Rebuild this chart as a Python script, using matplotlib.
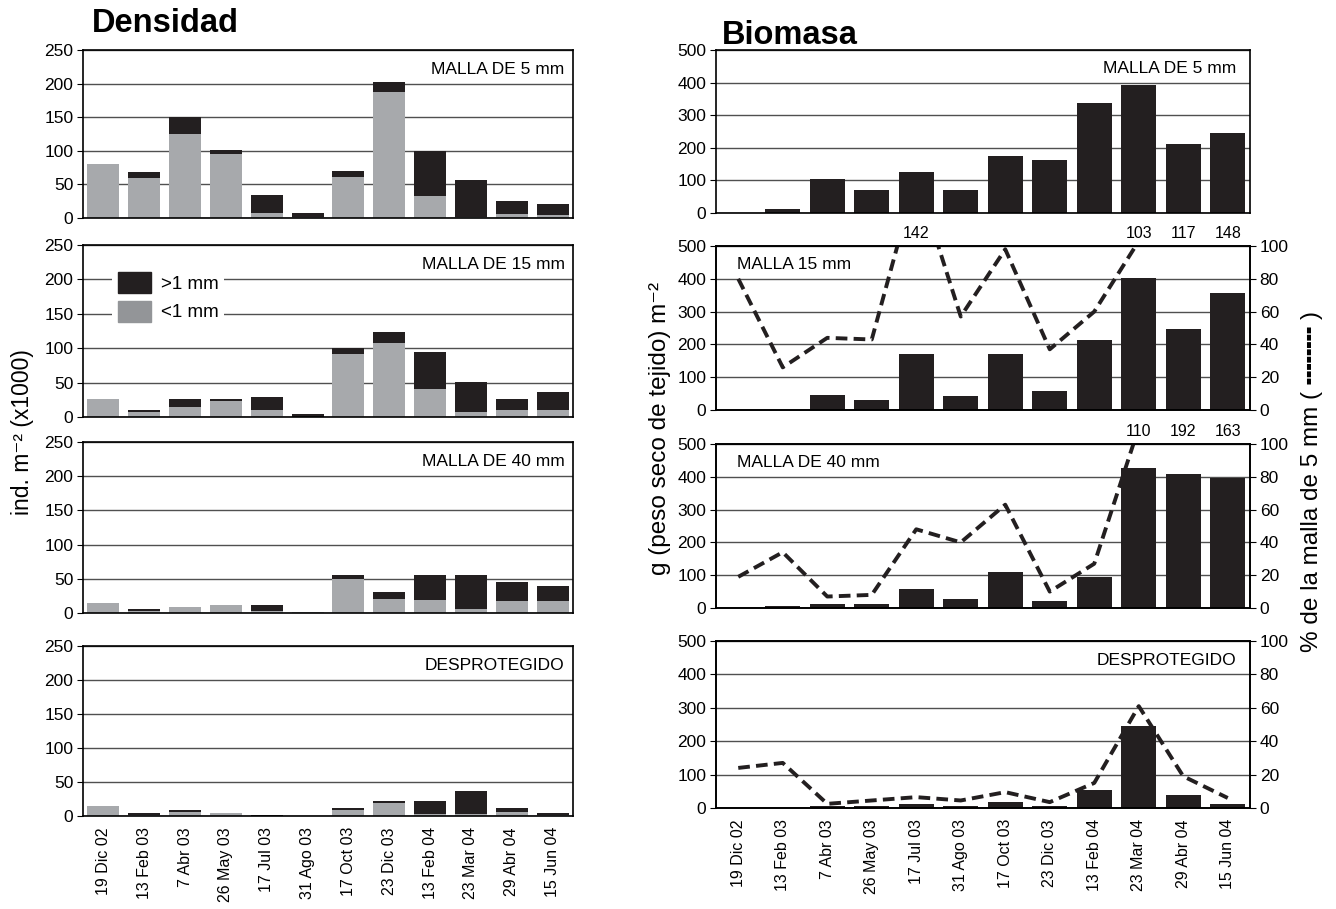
import numpy as np
import matplotlib
matplotlib.use("Agg")
import matplotlib.pyplot as plt
from matplotlib.patches import Patch

plt.rcParams['font.family'] = ['Liberation Sans', 'DejaVu Sans']

fechas = ["19 Dic 02", "13 Feb 03", "7 Abr 03", "26 May 03", "17 Jul 03", "31 Ago 03",
          "17 Oct 03", "23 Dic 03", "13 Feb 04", "23 Mar 04", "29 Abr 04", "15 Jun 04"]

# Densidad (ind. m-2 x1000): total y fraccion <1 mm
dens_total_5 = [80, 68, 151, 101, 34, 8, 70, 203, 99, 57, 26, 21]
dens_chico_5 = [80, 60, 125, 95, 8, 2, 61, 187, 32, 2, 6, 5]
dens_total_15 = [26, 10, 26, 26, 29, 5, 100, 124, 95, 51, 26, 36]
dens_chico_15 = [26, 7, 14, 23, 10, 0, 92, 108, 40, 7, 10, 10]
dens_total_40 = [15, 6, 9, 12, 12, 2, 56, 30, 56, 56, 46, 40]
dens_chico_40 = [15, 3, 9, 12, 3, 2, 50, 21, 19, 6, 17, 17]
dens_total_desp = [15, 5, 9, 5, 2, 0.5, 12, 22, 22, 37, 12, 5]
dens_chico_desp = [15, 2, 6, 5, 0, 0, 9, 19, 3, 3, 6, 2]

# Biomasa g (peso seco) m-2
bio_5 = [0, 11, 105, 71, 127, 71, 176, 164, 336, 392, 213, 244]
bio_15 = [0, 0, 47, 32, 171, 43, 171, 59, 214, 401, 246, 357]
bio_40 = [0, 5, 11, 11, 58, 27, 111, 21, 94, 428, 408, 396]
bio_desp = [0, 0, 5, 5, 12, 6, 18, 6, 53, 245, 38, 12]

# % de la malla de 5 mm
pct_15 = [80, 26, 44, 43, 142, 57, 98, 37, 60, 103, 117, 148]
pct_40 = [19, 34, 7, 8, 48, 40, 63, 10, 27, 110, 192, 163]
pct_desp = [24, 27, 2.5, 4.5, 6.5, 4.5, 9.5, 3.5, 15, 61, 19, 6]

NEGRO = '#231f20'
GRIS = '#a7a9ac'
W, H = 1336, 909

fig = plt.figure(figsize=(W / 100, H / 100), dpi=100)


def caja(x0, x1, ytop, ybot):
    return fig.add_axes([x0 / W, 1 - ybot / H, (x1 - x0) / W, (ybot - ytop) / H])


def estilo(ax, ymax, paso, ultimo):
    x = np.arange(len(fechas))
    ax.set_xlim(-0.5, 11.5)
    ax.set_ylim(0, ymax)
    ax.set_yticks(np.arange(0, ymax + 1, paso))
    ax.yaxis.grid(True, color='#505050', lw=1)
    ax.set_axisbelow(True)
    ax.tick_params(axis='y', length=4, labelsize=12.5, pad=3)
    ax.set_xticks(x)
    ax.tick_params(axis='x', length=0, pad=8)
    if ultimo:
        ax.set_xticklabels(fechas, rotation=90, fontsize=11.5)
    else:
        ax.set_xticklabels([])
    for s in ax.spines.values():
        s.set_linewidth(1.2)


x = np.arange(len(fechas))

# ---- Densidad ----
izq = [(50, 218), (245, 417), (442, 613), (646, 816)]
dens = [(dens_total_5, dens_chico_5, "MALLA DE 5 mm"),
        (dens_total_15, dens_chico_15, "MALLA DE 15 mm"),
        (dens_total_40, dens_chico_40, "MALLA DE 40 mm"),
        (dens_total_desp, dens_chico_desp, "DESPROTEGIDO")]
for i, ((yt, yb), (tot, chico, nombre)) in enumerate(zip(izq, dens)):
    ax = caja(83, 573, yt, yb)
    grande = np.array(tot) - np.array(chico)
    ax.bar(x, chico, width=0.78, color=GRIS)
    ax.bar(x, grande, bottom=chico, width=0.78, color=NEGRO)
    estilo(ax, 250, 50, i == 3)
    ax.text(0.983, 0.93, nombre, transform=ax.transAxes, ha='right', va='top', fontsize=12.5)
    if i == 1:
        ax.legend(handles=[Patch(color=NEGRO, label='>1 mm'), Patch(color='#939598', label='<1 mm')],
                  loc='upper left', bbox_to_anchor=(0.04, 0.93), frameon=True, fancybox=False,
                  edgecolor='none', framealpha=1, fontsize=13.5, handlelength=1.8,
                  handleheight=1.35, borderpad=0.3, labelspacing=0.4, handletextpad=0.5)

# ---- Biomasa ----
der = [(50, 213), (246, 410), (444, 608), (641, 808)]
bio = [(bio_5, None, "MALLA DE 5 mm", 'right'),
       (bio_15, pct_15, "MALLA 15 mm", 'left'),
       (bio_40, pct_40, "MALLA DE 40 mm", 'left'),
       (bio_desp, pct_desp, "DESPROTEGIDO", 'right')]
for i, ((yt, yb), (b, pct, nombre, lado)) in enumerate(zip(der, bio)):
    ax = caja(716, 1250, yt, yb)
    ax.bar(x, b, width=0.78, color=NEGRO)
    estilo(ax, 500, 100, i == 3)
    if lado == 'right':
        ax.text(0.975, 0.93, nombre, transform=ax.transAxes, ha='right', va='top', fontsize=12.5)
    else:
        ax.text(0.04, 0.93, nombre, transform=ax.transAxes, ha='left', va='top', fontsize=12.5)
    if pct is not None:
        ax2 = ax.twinx()
        ax2.set_ylim(0, 100)
        ax2.set_yticks(np.arange(0, 101, 20))
        ax2.tick_params(axis='y', length=4, labelsize=12.5, pad=3)
        ax2.plot(x, pct, color=NEGRO, lw=2.8, ls=(0, (3, 1.6)))
        for xi, v in zip(x, pct):
            if v > 100:
                ax2.text(xi, 103, f"{v:.0f}", ha='center', va='bottom', fontsize=11.5, clip_on=False)
        for s in ax2.spines.values():
            s.set_linewidth(1.2)

fig.text(92 / W, 1 - 24 / H, "Densidad", fontsize=23.5, fontweight='bold', va='center')
fig.text(722 / W, 1 - 36 / H, "Biomasa", fontsize=23.5, fontweight='bold', va='center')
fig.text(22 / W, 1 - 432 / H, "ind. m\u207b\u00b2 (x1000)", rotation=90, fontsize=16.5,
         ha='center', va='center')
fig.text(660 / W, 1 - 428 / H, "g (peso seco de tejido) m\u207b\u00b2", rotation=90,
         fontsize=17.5, ha='center', va='center')
fig.text(1312 / W, 1 - 482 / H, "% de la malla de 5 mm ( \u254d\u254d\u254d\u254d )", rotation=90,
         fontsize=17.5, ha='center', va='center')

fig.savefig("out.png", dpi=100)
